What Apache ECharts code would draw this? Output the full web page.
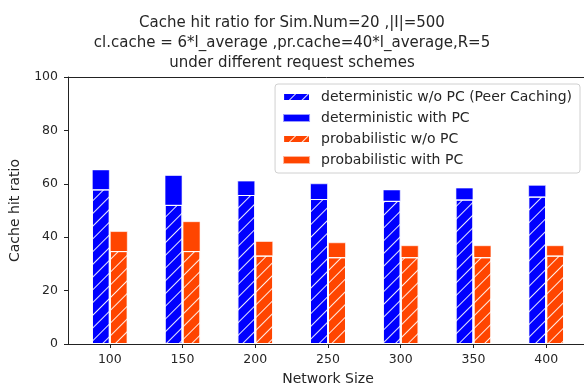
<!DOCTYPE html>
<html>
<head>
<meta charset="utf-8">
<script src="https://cdn.jsdelivr.net/npm/echarts@6/dist/echarts.min.js"></script>
<style>
  html, body { margin: 0; padding: 0; background: #fff; }
  #chart { width: 584px; height: 385px; }
</style>
</head>
<body>
<div id="chart"></div>
<script>
// Network sizes on the x axis
const sizes = [100, 150, 200, 250, 300, 350, 400];
// Cache hit ratio (%) per scheme
const detNoPC  = [57.9, 52.1, 55.8, 54.3, 53.6, 54.1, 55.2];
const detPC    = [65.4, 63.3, 61.2, 60.2, 57.9, 58.6, 59.6];
const probNoPC = [34.8, 34.8, 33.1, 32.5, 32.5, 32.5, 33.1];
const probPC   = [42.3, 46.0, 38.6, 38.1, 37.0, 37.0, 37.0];
const yTicks = [0, 20, 40, 60, 80, 100];

const BLUE = '#0000ff';
const ORANGE = '#ff4500';
const FONT = 'DejaVu Sans';
const TXT = '#262626';

// white "/" hatching for the w/o PC bars
const hatch = {
  symbol: 'rect',
  symbolSize: 1,
  dashArrayX: [[1, 0]],
  dashArrayY: [1, 8],
  rotation: -Math.PI / 4,
  color: 'rgba(255,255,255,0.9)'
};

const pairs = (vals) => sizes.map((s, i) => [s, vals[i]]);

const chart = echarts.init(document.getElementById('chart'), null, { renderer: 'canvas' });

const xBase = {
  type: 'value',
  min: 71.25,
  max: 428.75,
  splitLine: { show: false }
};

chart.setOption({
  animation: false,
  title: {
    text: 'Cache hit ratio for Sim.Num=20 ,|I|=500\ncl.cache = 6*l_average ,pr.cache=40*l_average,R=5\nunder different request schemes',
    left: 'center',
    top: 8,
    textStyle: { fontFamily: FONT, fontSize: 15, fontWeight: 'normal', color: TXT, lineHeight: 20 }
  },
  legend: {
    orient: 'vertical',
    right: 4,
    top: 84,
    icon: 'rect',
    itemWidth: 27,
    itemHeight: 8,
    itemGap: 7,
    padding: [6, 8, 6, 7],
    backgroundColor: '#fff',
    borderColor: '#d0d0d0',
    borderWidth: 1,
    borderRadius: 3,
    textStyle: { fontFamily: FONT, fontSize: 14, color: TXT, padding: [0, 0, 0, 6] },
    data: ['deterministic w/o PC (Peer Caching)', 'deterministic with PC', 'probabilistic w/o PC', 'probabilistic with PC']
  },
  grid: { left: 68, right: -4, top: 77, bottom: 41, outerBoundsMode: 'none' },
  xAxis: [
    Object.assign({}, xBase, {
      position: 'bottom',
      name: 'Network Size',
      nameLocation: 'middle',
      nameGap: 28,
      nameTextStyle: { fontFamily: FONT, fontSize: 14, color: TXT },
      axisLine: { show: true, lineStyle: { color: '#222', width: 1 } },
      axisTick: { show: true, inside: false, length: 4, customValues: sizes, lineStyle: { color: '#222' } },
      axisLabel: { show: true, customValues: sizes, margin: 9, fontFamily: FONT, fontSize: 12.5, color: TXT }
    }),
    Object.assign({}, xBase, {
      position: 'top',
      axisLine: { show: true, onZero: false, lineStyle: { color: '#222', width: 1 } },
      axisTick: { show: false },
      axisLabel: { show: false }
    })
  ],
  yAxis: {
    type: 'value',
    min: 0,
    max: 100,
    interval: 20,
    name: 'Cache hit ratio',
    nameLocation: 'middle',
    nameGap: 46,
    nameTextStyle: { fontFamily: FONT, fontSize: 14, color: TXT },
    splitLine: { show: false },
    axisLine: { show: true, lineStyle: { color: '#222', width: 1 } },
    axisTick: { show: true, inside: false, length: 4, lineStyle: { color: '#222' } },
    axisLabel: { margin: 10, fontFamily: FONT, fontSize: 12.5, color: TXT, customValues: yTicks }
  },
  series: [
    {
      name: 'deterministic with PC', type: 'bar', xAxisIndex: 0, z: 2,
      barWidth: 18, barGap: '0%',
      itemStyle: { color: BLUE, borderColor: 'rgba(255,255,255,0.6)', borderWidth: 1 },
      data: pairs(detPC)
    },
    {
      name: 'probabilistic with PC', type: 'bar', xAxisIndex: 0, z: 2,
      barWidth: 18, barGap: '0%',
      itemStyle: { color: ORANGE, borderColor: 'rgba(255,255,255,0.6)', borderWidth: 1 },
      data: pairs(probPC)
    },
    {
      name: 'deterministic w/o PC (Peer Caching)', type: 'bar', xAxisIndex: 1, z: 3,
      barWidth: 18, barGap: '0%',
      itemStyle: { color: BLUE, borderColor: '#fff', borderWidth: 1, decal: hatch },
      data: pairs(detNoPC)
    },
    {
      name: 'probabilistic w/o PC', type: 'bar', xAxisIndex: 1, z: 3,
      barWidth: 18, barGap: '0%',
      itemStyle: { color: ORANGE, borderColor: '#fff', borderWidth: 1, decal: hatch },
      data: pairs(probNoPC)
    }
  ]
});
</script>
</body>
</html>
